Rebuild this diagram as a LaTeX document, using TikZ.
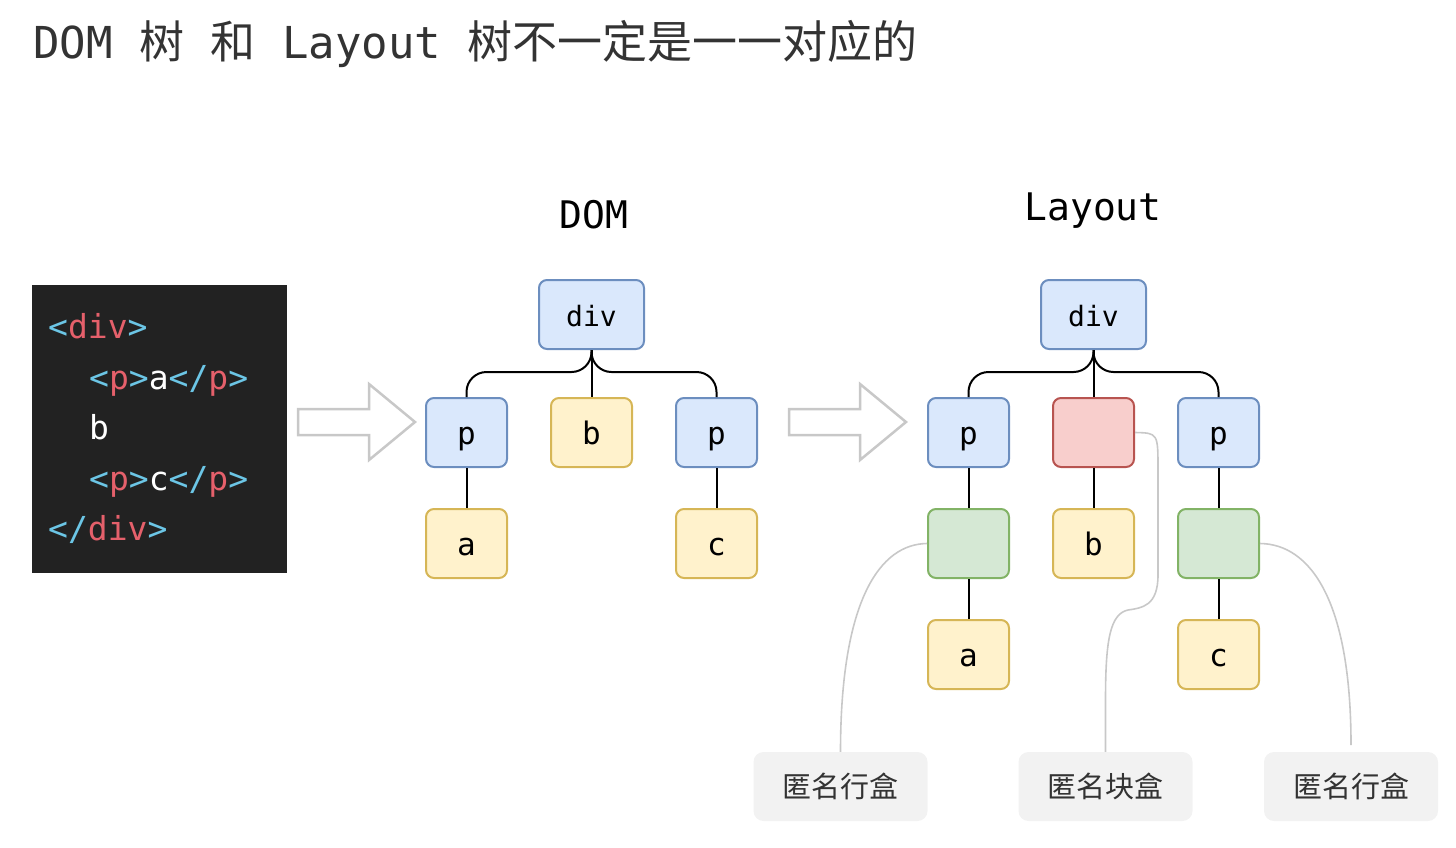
\documentclass[tikz,border=0pt]{standalone}
\usepackage{fontspec}
\usepackage{tikz}
\setmonofont{DejaVu Sans Mono}
\newfontfamily\cjk{Noto Sans CJK SC}
\definecolor{ink}{HTML}{333333}
\definecolor{codebg}{HTML}{222222}
\definecolor{tagmark}{HTML}{6CC6E6}
\definecolor{tagname}{HTML}{E5606B}
\definecolor{elemfill}{HTML}{DAE8FC}
\definecolor{elemline}{HTML}{6C8EBF}
\definecolor{textfill}{HTML}{FFF2CC}
\definecolor{textline}{HTML}{D6B656}
\definecolor{blockfill}{HTML}{F8CECC}
\definecolor{blockline}{HTML}{B85450}
\definecolor{linefill}{HTML}{D5E8D4}
\definecolor{lineline}{HTML}{82B366}
\definecolor{notefill}{HTML}{F2F2F2}
\definecolor{notewire}{HTML}{C8C8C8}

\tikzset{
  treebox/.style={rounded corners=8pt, line width=2pt, minimum width=81pt,
    minimum height=69pt, inner sep=0pt, text height=24pt, text depth=0pt,
    font=\fontsize{31}{34}\selectfont\ttfamily},
  elembox/.style={treebox, draw=elemline, fill=elemfill},
  textbox/.style={treebox, draw=textline, fill=textfill},
  anonblock/.style={treebox, draw=blockline, fill=blockfill},
  anonline/.style={treebox, draw=lineline, fill=linefill},
  rootbox/.style={elembox, minimum width=105pt, font=\fontsize{28}{30}\selectfont\ttfamily},
  notebox/.style={rounded corners=10pt, fill=notefill, minimum width=174pt,
    minimum height=69pt, inner sep=0pt, text=ink, font=\fontsize{29}{31}\selectfont\cjk},
  treeline/.style={line width=2pt, rounded corners=20pt},
  notelink/.style={draw=notewire, line width=1.6pt},
  bigarrow/.style={draw=notewire, fill=white, line width=2.5pt, line join=miter},
  codeline/.style={anchor=base west, inner sep=0pt, text=white,
    font=\fontsize{33}{36}\selectfont\ttfamily},
  treetitle/.style={font=\fontsize{38}{40}\selectfont\ttfamily},
}
\newcommand{\tmk}[1]{\textcolor{tagmark}{#1}}
\newcommand{\tnm}[1]{\textcolor{tagname}{#1}}
\newcommand{\titlecjk}[1]{{\fontsize{45}{48}\selectfont\cjk #1}}

\begin{document}
\begin{tikzpicture}[x=1pt, y=-1pt]
  \useasboundingbox (0,0) rectangle (1456,847);

  % title
  \node[anchor=base west, inner sep=0pt, text=ink, font=\fontsize{44}{47}\selectfont\ttfamily]
    (title) at (33,58) {DOM \titlecjk{树} \titlecjk{和} Layout \titlecjk{树不一定是一一对应的}};

  % source code
  \fill[codebg] (32,285) rectangle (287,573);
  \node[codeline] (code1) at (48,338) {\tmk{<}\tnm{div}\tmk{>}};
  \node[codeline] (code2) at (89,389) {\tmk{<}\tnm{p}\tmk{>}a\tmk{</}\tnm{p}\tmk{>}};
  \node[codeline] (code3) at (89,439) {b};
  \node[codeline] (code4) at (89,490) {\tmk{<}\tnm{p}\tmk{>}c\tmk{</}\tnm{p}\tmk{>}};
  \node[codeline] (code5) at (48,540) {\tmk{</}\tnm{div}\tmk{>}};

  % hollow arrows
  \draw[bigarrow] (298,409) -- (369,409) -- (369,384) -- (415,422) -- (369,460)
    -- (369,435) -- (298,435) -- cycle;
  \draw[bigarrow] (789,409) -- (860,409) -- (860,384) -- (906,422) -- (860,460)
    -- (860,435) -- (789,435) -- cycle;

  % DOM tree
  \node[treetitle] (domtitle) at (594,215) {DOM};
  \node[rootbox] (ddiv) at (591.5,314.5) {div};
  \node[elembox] (dp1) at (466.5,432.5) {p};
  \node[textbox] (db) at (591.5,432.5) {b};
  \node[elembox] (dp2) at (716.5,432.5) {p};
  \node[textbox] (da) at (466.5,543.5) {a};
  \node[textbox] (dc) at (716.5,543.5) {c};
  \draw[treeline] (ddiv.south) |- ([yshift=25pt]dp1.north) -- (dp1.north);
  \draw[treeline] (ddiv.south) |- ([yshift=25pt]dp2.north) -- (dp2.north);
  \draw[treeline] (ddiv.south) -- (db.north);
  \draw[treeline] (dp1) -- (da);
  \draw[treeline] (dp2) -- (dc);

  % Layout tree
  \node[treetitle] (laytitle) at (1093,211) {Layout};
  \node[rootbox] (ldiv) at (1093.5,314.5) {div};
  \node[elembox] (lp1) at (968.5,432.5) {p};
  \node[anonblock] (lanon) at (1093.5,432.5) {};
  \node[elembox] (lp2) at (1218.5,432.5) {p};
  \node[anonline] (lline1) at (968.5,543.5) {};
  \node[textbox] (lb) at (1093.5,543.5) {b};
  \node[anonline] (lline2) at (1218.5,543.5) {};
  \node[textbox] (la) at (968.5,654.5) {a};
  \node[textbox] (lc) at (1218.5,654.5) {c};
  \draw[treeline] (ldiv.south) |- ([yshift=25pt]lp1.north) -- (lp1.north);
  \draw[treeline] (ldiv.south) |- ([yshift=25pt]lp2.north) -- (lp2.north);
  \draw[treeline] (ldiv.south) -- (lanon.north);
  \draw[treeline] (lp1) -- (lline1);
  \draw[treeline] (lline1) -- (la);
  \draw[treeline] (lanon) -- (lb);
  \draw[treeline] (lp2) -- (lline2);
  \draw[treeline] (lline2) -- (lc);

  % notes
  \node[notebox] (note1) at (840.5,786.5) {匿名行盒};
  \node[notebox] (note2) at (1105.5,786.5) {匿名块盒};
  \node[notebox] (note3) at (1351,786.5) {匿名行盒};
  \coordinate (note3top) at (1351,745);
  \draw[notelink] (lline1.west) .. controls (880,544) and (840.5,600) .. (note1.north);
  \draw[notelink] (lanon.east) .. controls (1158,433) .. (1158,470) -- (1158,575)
    .. controls (1158,606) and (1142,608) .. (1128,610)
    .. controls (1110,614) and (1105.5,640) .. (1105.5,700) -- (note2.north);
  \draw[notelink] (lline2.east) .. controls (1310,544) and (1351,600) .. (note3top);
\end{tikzpicture}
\end{document}
